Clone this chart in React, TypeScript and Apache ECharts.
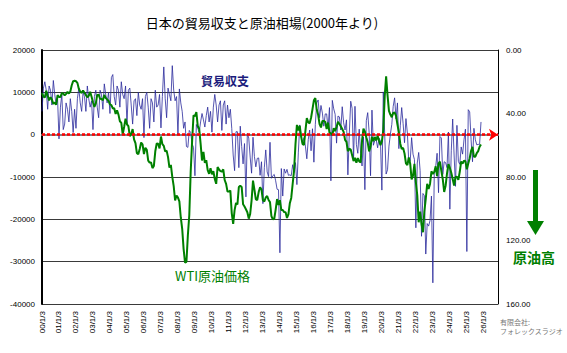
import React, { useEffect, useRef } from "react";
import * as echarts from "echarts";

// 日本の貿易収支 (億円, monthly, 2000/01 - 2025/11)
const tradeBalance: number[] = [
  // 2000
  5500, 11000, 12500, 10500, 6000, 11500, 10500, 7000, 12800, 9500, 7000, 8500,
  // 2001
  -1000, 6500, 9500, 1200, 2500, 7500, 6000, 3000, 8500, 5500, 500, 6000,
  // 2002
  1500, 8500, 11000, 7500, 5500, 10000, 9000, 5500, 11500, 8500, 6500, 8000,
  // 2003
  1200, 9000, 10500, 6500, 4000, 10500, 9500, 6000, 12000, 9500, 7500, 10000,
  // 2004
  5000, 13500, 14200, 9000, 7000, 11500, 10500, 6500, 12500, 9500, 8500, 11500,
  // 2005
  2500, 10500, 11000, 7000, 2500, 8000, 8500, 4500, 10000, 7000, 6000, 8500,
  // 2006
  -700, 9000, 10000, 6500, 1500, 8500, 7500, 3000, 10500, 6500, 7000, 9500,
  // 2007
  1600, 9000, 16000, 8500, 4000, 11000, 9500, 8000, 16300, 10500, 8000, 9000,
  // 2008
  0, 10800, 7500, 5500, 1500, 3000, -2800, -3000, 1000, 500, -2200, -3000,
  // 2009
  -9700, 2400, 1500, 600, 3000, 5000, 3500, 1800, 4500, 6500, 3000, 5500,
  // 2010
  600, 6500, 9500, 7000, 3000, 7000, 8000, 1000, 7000, 8000, 2500, 7000,
  // 2011
  4000, 6000, 1500, -4800, -8500, 700, 700, -7800, 2000, -2800, -6900, -2100,
  // 2012
  -14700, 300, -800, -5300, -9100, -600, -5200, -7600, -5600, -5500, -9600, -6400,
  // 2013
  -16300, -7800, -3600, -8800, -9900, -1800, -10300, -9700, -9400, -10900, -12900, -13000,
  // 2014
  -27900, -8000, -14500, -8100, -9100, -8200, -9600, -9500, -9700, -7100, -8900, -6600,
  // 2015
  -11800, -4300, 2300, -500, -2200, -700, -2700, -5700, -1200, 1100, -3800, 1400,
  // 2016
  -6500, 2400, 7500, 8200, 4000, 6900, 5100, 2000, 4900, 4900, 1500, 6400,
  // 2017
  -10900, 8100, 6100, 4800, -2000, 4400, 4200, 1100, 6600, 2800, 1100, 3500,
  // 2018
  -9500, 300, 7900, 6200, -5800, 6700, -2300, -4400, 1300, -4500, -7400, -550,
  // 2019
  -13000, 3300, 5200, 600, -9700, 5800, -2500, -1400, -1200, -3100, -800, -1500,
  // 2020
  -13100, 10100, 50, -9300, -8300, -2700, 100, 2400, 6700, 8700, 3700, 7500,
  // 2021
  -3300, 2100, 6400, 2600, -1900, 3800, 400, -6400, -6300, -700, -4600, -5900,
  // 2022
  -22000, -6700, -4200, -8500, -24000, -13900, -14400, -28200, -21000, -21600, -20300, -14500,
  // 2023
  -35000, -9000, -7600, -4400, -13700, -430, -780, -9400, -6400, -6600, -7800, 620,
  // 2024
  -17600, -3800, 3700, -4800, -12200, 2200, -6300, -7000, -2900, -4600, -1200, 1300,
  // 2025
  -27600, 5900, 5400, -1200, -6400, 1500, -1200, -2400, -2300, -2300, 3000,
];

// WTI原油価格 (USD/bbl, monthly average, 2000/01 - 2025/11)
const wtiPrice: number[] = [
  27.2, 29.4, 29.9, 25.7, 28.8, 31.8, 29.7, 31.2, 33.9, 33.1, 34.4, 28.5,
  29.6, 29.6, 27.2, 27.4, 28.6, 27.6, 26.4, 27.4, 26.2, 22.2, 19.6, 19.4,
  19.7, 20.7, 24.4, 26.3, 27.0, 25.5, 26.9, 28.4, 29.7, 28.9, 26.3, 29.4,
  32.9, 35.9, 33.6, 28.3, 28.1, 30.7, 30.8, 31.6, 28.3, 30.3, 31.1, 32.1,
  34.3, 34.7, 36.8, 36.7, 40.3, 38.0, 40.7, 44.9, 45.9, 53.1, 48.5, 43.3,
  46.8, 48.0, 54.3, 53.0, 49.8, 56.3, 58.7, 65.0, 65.6, 62.4, 58.3, 59.4,
  65.5, 61.6, 62.9, 69.7, 70.9, 70.9, 74.4, 73.0, 63.8, 58.9, 59.1, 62.0,
  54.5, 59.3, 60.4, 63.9, 63.4, 67.5, 74.1, 72.4, 79.9, 85.8, 94.8, 91.7,
  93.0, 95.4, 105.5, 112.6, 125.4, 133.9, 133.4, 116.7, 104.1, 76.6, 57.3, 41.1,
  41.7, 39.1, 47.9, 49.6, 59.0, 69.6, 64.2, 71.1, 69.4, 75.7, 78.0, 74.5,
  78.3, 76.4, 81.2, 84.3, 73.7, 75.3, 76.3, 76.6, 75.2, 81.9, 84.3, 89.2,
  89.2, 88.6, 102.9, 109.5, 100.9, 96.3, 97.3, 86.3, 85.5, 86.3, 97.2, 98.6,
  100.3, 102.2, 106.2, 103.3, 94.7, 82.3, 87.9, 94.1, 94.5, 89.5, 86.5, 87.9,
  94.8, 95.3, 92.9, 92.0, 94.5, 95.8, 104.6, 106.6, 106.3, 100.5, 93.9, 97.6,
  94.6, 100.8, 100.8, 102.1, 102.2, 105.8, 103.6, 96.5, 93.2, 84.4, 75.8, 59.3,
  47.2, 50.6, 47.8, 54.5, 59.3, 59.8, 50.9, 42.9, 45.5, 46.2, 42.7, 37.3,
  31.7, 30.3, 37.5, 40.8, 46.7, 48.8, 44.7, 44.7, 45.2, 49.8, 45.7, 52.0,
  52.5, 53.5, 49.3, 51.1, 48.5, 45.2, 46.6, 48.0, 49.8, 51.6, 56.6, 57.9,
  63.7, 62.2, 62.7, 66.3, 70.0, 67.9, 71.0, 68.1, 70.2, 70.8, 57.0, 49.5,
  51.4, 55.0, 58.2, 63.9, 60.8, 54.7, 57.4, 54.8, 57.0, 54.0, 57.0, 59.9,
  57.5, 50.5, 29.2, 16.6, 28.6, 38.3, 40.7, 42.3, 39.6, 39.4, 41.4, 47.0,
  52.0, 59.0, 62.3, 61.7, 65.2, 71.4, 72.5, 67.7, 71.6, 81.5, 79.2, 71.7,
  83.2, 91.6, 108.5, 101.8, 109.6, 114.8, 101.6, 93.7, 84.3, 87.6, 84.4, 76.4,
  78.1, 76.8, 73.3, 79.4, 71.6, 70.3, 76.1, 81.4, 89.4, 85.6, 77.7, 71.9,
  74.2, 77.3, 81.3, 85.4, 80.0, 79.8, 81.8, 76.7, 70.2, 71.6, 69.7, 70.1,
  75.1, 71.5, 68.2, 63.5, 61.0, 67.3, 67.2, 64.9, 63.7, 60.9, 59.5,
];

const startYear = 2000;
const monthCount = 323; // 2000/01 .. 2026/11 axis span

const categories: string[] = [];
for (let i = 0; i < monthCount; i++) {
  const y = startYear + Math.floor(i / 12);
  const m = (i % 12) + 1;
  categories.push(`${y}-${String(m).padStart(2, "0")}`);
}

const leftTicks = { min: -40000, max: 20000, interval: 10000 };
const rightTicks = { min: 0, max: 160, interval: 40 };

const FONT = "'Liberation Sans', Arial, sans-serif";
const JFONT = "'Noto Sans CJK JP', 'Liberation Sans', sans-serif";

export default function App() {
  const ref = useRef<HTMLDivElement>(null);
  useEffect(() => {
    if (!ref.current) return;
    const chart = echarts.init(ref.current, null, { renderer: "svg" });
    chart.setOption({
      animation: false,
      backgroundColor: "#ffffff",
      title: {
        text: "日本の貿易収支と原油相場(2000年より)",
        left: 257,
        textAlign: "center",
        top: 11,
        textStyle: { fontFamily: JFONT, fontSize: 13, fontWeight: "normal", color: "#000" },
      },
      grid: { left: 42, top: 50, right: 69, bottom: 49, containLabel: false },
      xAxis: {
        type: "category",
        data: categories,
        boundaryGap: false,
        axisLine: { show: true, lineStyle: { color: "#808080", width: 2 } },
        axisTick: { show: false },
        splitLine: { show: false },
        axisLabel: {
          interval: (idx: number) => idx % 12 === 0,
          rotate: 90,
          margin: 7,
          fontSize: 8,
          fontFamily: FONT,
          color: "#000",
          formatter: (v: string) => {
            const [y, m] = v.split("-");
            return m === "01" ? `${y.slice(2)}/1/3` : "";
          },
        },
      },
      yAxis: [
        {
          type: "value",
          ...leftTicks,
          position: "left",
          axisLine: { show: true, lineStyle: { color: "#000", width: 2 } },
          axisTick: { show: false },
          splitLine: { show: true, lineStyle: { color: "#3a3a3a", width: 1 } },
          axisLabel: {
            fontSize: 8,
            fontFamily: FONT,
            color: "#000",
            margin: 7,
            formatter: (v: number) => String(v),
          },
        },
        {
          type: "value",
          ...rightTicks,
          inverse: true,
          position: "right",
          axisLine: { show: true, lineStyle: { color: "#000", width: 1 } },
          axisTick: { show: false },
          splitLine: { show: false },
          axisLabel: {
            fontSize: 8,
            fontFamily: FONT,
            color: "#000",
            margin: 8,
            formatter: (v: number) => v.toFixed(2),
          },
        },
      ],
      series: [
        {
          type: "line",
          name: "貿易収支",
          data: tradeBalance,
          yAxisIndex: 0,
          symbol: "none",
          lineStyle: { color: "#2b2b9c", width: 1, opacity: 0.8 },
          z: 2,
          markLine: {
            silent: true,
            symbol: ["none", "arrow"],
            symbolSize: [9, 9],
            label: { show: false },
            lineStyle: { color: "#ff0000", width: 2.5, type: [3, 2] },
            data: [{ yAxis: 0 }],
          },
        },
        {
          type: "line",
          name: "WTI原油価格",
          data: wtiPrice,
          yAxisIndex: 1,
          symbol: "none",
          lineStyle: { color: "#008000", width: 2 },
          z: 3,
        },
      ],
      graphic: [
        {
          type: "text",
          left: 201,
          top: 74,
          style: { text: "貿易収支", font: `bold 12px ${JFONT}`, fill: "#1c1c7c" },
        },
        {
          type: "text",
          left: 175,
          top: 269,
          style: { text: "WTI原油価格", font: `13px ${JFONT}`, fill: "#008000" },
        },
        {
          type: "rect",
          shape: { x: 533, y: 170, width: 5, height: 53 },
          style: { fill: "#008000" },
        },
        {
          type: "polygon",
          shape: { points: [[527, 221], [544, 221], [535.5, 235]] },
          style: { fill: "#008000" },
        },
        {
          type: "text",
          left: 513,
          top: 250,
          style: { text: "原油高", font: `bold 14px ${JFONT}`, fill: "#008000" },
        },
        {
          type: "text",
          left: 500,
          top: 318,
          style: { text: "有限会社:", font: `7px ${JFONT}`, fill: "#777" },
        },
        {
          type: "text",
          left: 500,
          top: 327,
          style: { text: "フォレックスラジオ", font: `7px ${JFONT}`, fill: "#777" },
        },
      ],
    });
    return () => chart.dispose();
  }, []);
  return (
    <div
      ref={ref}
      style={{ position: "absolute", left: 0, top: 0, width: 567, height: 353 }}
    />
  );
}
